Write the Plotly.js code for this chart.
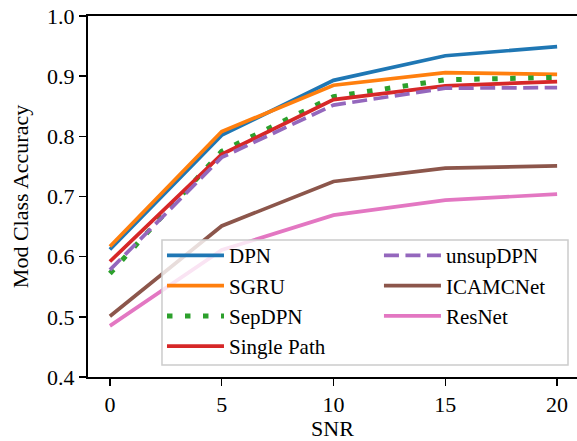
<!DOCTYPE html>
<html>
<head>
<meta charset="utf-8">
<script src="https://cdn.plot.ly/plotly-3.0.1.min.js"></script>
<style>html,body{margin:0;padding:0;background:#fff;}#chart{width:577px;height:441px;}</style>
</head>
<body>
<div id="chart"></div>
<script>
var snr = [0, 5, 10, 15, 20];
var dpn = [0.612, 0.802, 0.893, 0.934, 0.949];
var sgru = [0.617, 0.808, 0.885, 0.906, 0.903];
var sepdpn = [0.572, 0.775, 0.866, 0.894, 0.898];
var singlePath = [0.592, 0.770, 0.861, 0.884, 0.891];
var unsupdpn = [0.578, 0.765, 0.852, 0.880, 0.881];
var icamcnet = [0.501, 0.651, 0.725, 0.747, 0.751];
var resnet = [0.485, 0.611, 0.669, 0.694, 0.704];

var names = ['DPN', 'SGRU', 'SepDPN', 'Single Path', 'unsupDPN', 'ICAMCNet', 'ResNet'];
var series = [dpn, sgru, sepdpn, singlePath, unsupdpn, icamcnet, resnet];
var colors = ['#1f77b4', '#ff7f0e', '#2ca02c', '#d62728', '#9467bd', '#8c564b', '#e377c2'];
var dashes = ['solid', 'solid', '5.5px,12.5px', 'solid', '15px,6.5px', 'solid', 'solid'];
var widths = [3.7, 3.7, 5, 3.7, 3.7, 3.7, 3.7];
var legendCol = ['legend', 'legend', 'legend', 'legend', 'legend2', 'legend2', 'legend2'];

var font = 'Liberation Serif, DejaVu Serif, serif';
var fs = 22;
var lfs = 21;
var traces = series.map(function (s, i) {
  return {
    x: snr, y: s, name: names[i], type: 'scatter', mode: 'lines',
    line: {color: colors[i], width: widths[i], dash: dashes[i]},
    legend: legendCol[i]
  };
});

var boxTop = 0.3795;
var legTop = 0.393;
function leg(x) {
  return {
    orientation: 'v', x: x, y: legTop, xanchor: 'left', yanchor: 'top',
    bgcolor: 'rgba(0,0,0,0)', borderwidth: 0, itemwidth: 57,
    font: {family: font, size: lfs, color: '#000'}, tracegroupgap: 0
  };
}

var layout = {
  width: 577, height: 441,
  margin: {l: 88, r: 0, t: 16, b: 64},
  paper_bgcolor: '#fff', plot_bgcolor: '#fff',
  font: {family: font, size: fs, color: '#000'},
  showlegend: true,
  legend: leg(0.1513),
  legend2: leg(0.595),
  shapes: [{
    type: 'rect', xref: 'paper', yref: 'paper', layer: 'above',
    x0: 0.1513, x1: 0.9816, y0: 0.0332, y1: boxTop,
    line: {color: '#cccccc', width: 1.5}, fillcolor: 'rgba(255,255,255,0.8)'
  }],
  xaxis: {
    range: [-0.98, 20.89], tickvals: [0, 5, 10, 15, 20],
    showgrid: false, zeroline: false, automargin: false,
    showline: true, linecolor: '#000', linewidth: 2, mirror: true,
    ticks: 'outside', ticklen: 7, tickwidth: 1.5, tickcolor: '#000',
    title: {text: 'SNR', font: {family: font, size: fs}, standoff: 9},
    tickfont: {family: font, size: fs}
  },
  yaxis: {
    range: [0.4, 1.0], tickvals: [0.4, 0.5, 0.6, 0.7, 0.8, 0.9, 1.0],
    ticktext: ['0.4', '0.5', '0.6', '0.7', '0.8', '0.9', '1.0'],
    showgrid: false, zeroline: false, automargin: false,
    showline: true, linecolor: '#000', linewidth: 2, mirror: false,
    ticks: 'outside', ticklen: 7, tickwidth: 1.5, tickcolor: '#000',
    title: {text: 'Mod Class Accuracy', font: {family: font, size: fs}, standoff: 12},
    tickfont: {family: font, size: fs}
  }
};

Plotly.newPlot('chart', traces, layout, {displayModeBar: false, staticPlot: true});
</script>
</body>
</html>
